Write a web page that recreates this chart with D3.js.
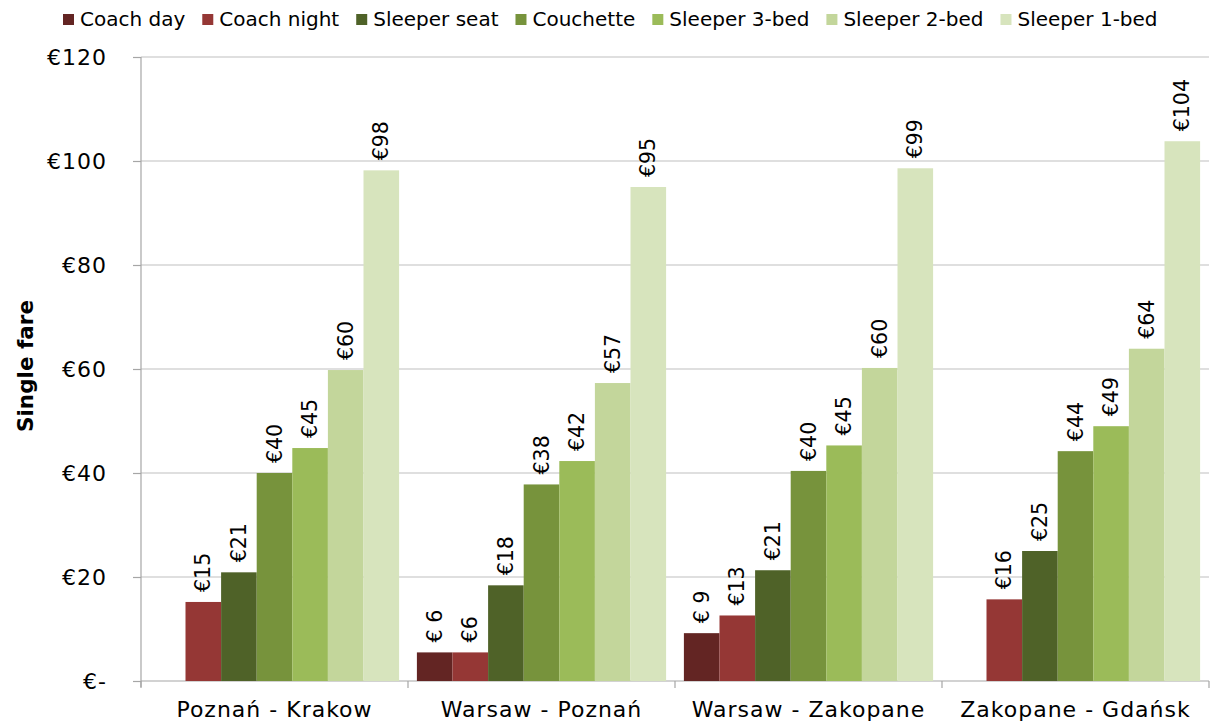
<!DOCTYPE html>
<html>
<head>
<meta charset="utf-8">
<script src="https://cdn.jsdelivr.net/npm/d3@7"></script>
<style>
  html, body { margin: 0; padding: 0; background: #fff; }
  svg { display: block; font-family: "DejaVu Sans", Verdana, sans-serif; }
</style>
</head>
<body>
<svg id="chart" width="1210" height="722"></svg>
<script>
// Routes (x categories)
const categories = ["Poznań - Krakow", "Warsaw - Poznań", "Warsaw - Zakopane", "Zakopane - Gdańsk"];

// Fare classes
const seriesNames = ["Coach day", "Coach night", "Sleeper seat", "Couchette", "Sleeper 3-bed", "Sleeper 2-bed", "Sleeper 1-bed"];

// Single fares in euro, one array per fare class (null = not offered)
const coachDay     = [null, 5.5, 9.2, null];
const coachNight   = [15.2, 5.5, 12.6, 15.7];
const sleeperSeat  = [20.9, 18.4, 21.3, 25.0];
const couchette    = [40.0, 37.8, 40.4, 44.2];
const sleeper3Bed  = [44.8, 42.3, 45.3, 49.0];
const sleeper2Bed  = [59.8, 57.3, 60.2, 63.9];
const sleeper1Bed  = [98.2, 95.0, 98.6, 103.8];

const seriesValues = [coachDay, coachNight, sleeperSeat, couchette, sleeper3Bed, sleeper2Bed, sleeper1Bed];

// Y axis ticks
const yTicks = [0, 20, 40, 60, 80, 100, 120];
const yTickLabels = ["€-", "€20", "€40", "€60", "€80", "€100", "€120"];

const colors = ["#632523", "#953735", "#4f6228", "#77933c", "#9bbb59", "#c3d69b", "#d7e4bd"];

const svg = d3.select("#chart");
const plot = { left: 141, right: 1209, top: 57, bottom: 681 };

const x0 = d3.scaleBand().domain(categories).range([plot.left, plot.right]).padding(0);
const x1 = d3.scaleBand().domain(seriesNames).range([0, x0.bandwidth()])
  .paddingInner(0).paddingOuter(0.25);
const y = d3.scaleLinear().domain([0, 120]).range([plot.bottom, plot.top]);

// Horizontal gridlines
svg.append("g")
  .selectAll("line")
  .data(yTicks.filter(d => d > 0))
  .join("line")
  .attr("x1", plot.left).attr("x2", plot.right)
  .attr("y1", d => y(d)).attr("y2", d => y(d))
  .attr("stroke", "#c0c0c0").attr("stroke-width", 1.2);

// Y axis
const yAxis = d3.axisLeft(y)
  .tickValues(yTicks)
  .tickSize(8)
  .tickPadding(26)
  .tickFormat((d, i) => yTickLabels[i]);
const gy = svg.append("g").attr("transform", `translate(${plot.left},0)`).call(yAxis);
gy.attr("font-family", null).attr("font-size", null);
gy.select(".domain").remove();
gy.append("line").attr("x1", 0).attr("x2", 0).attr("y1", plot.top).attr("y2", plot.bottom + 6)
  .attr("stroke", "#a6a6a6").attr("stroke-width", 1.2);
gy.selectAll(".tick line").attr("stroke", "#a6a6a6").attr("stroke-width", 1.2);
gy.selectAll(".tick text")
  .attr("fill", "#000")
  .attr("font-size", 22)
  .attr("letter-spacing", 1);

// X axis
const xAxis = d3.axisBottom(x0).tickSize(0).tickPadding(0);
const gx = svg.append("g").attr("transform", `translate(0,${plot.bottom})`).call(xAxis);
gx.attr("font-family", null).attr("font-size", null);
gx.select(".domain").remove();
gx.append("line").attr("x1", plot.left).attr("x2", plot.right).attr("y1", 0).attr("y2", 0)
  .attr("stroke", "#a6a6a6").attr("stroke-width", 1.2);
// boundary ticks between route groups
const bounds = categories.map(c => x0(c)).concat([x0(categories[categories.length - 1]) + x0.bandwidth()]);
gx.selectAll(".bound")
  .data(bounds)
  .join("line")
  .attr("class", "bound")
  .attr("x1", d => d).attr("x2", d => d)
  .attr("y1", 0).attr("y2", 7)
  .attr("stroke", "#a6a6a6").attr("stroke-width", 1.2);
gx.selectAll(".tick text")
  .attr("fill", "#000")
  .attr("dy", 0)
  .attr("y", 36)
  .attr("font-size", 22)
  .attr("letter-spacing", 1);

// Bars
const groups = svg.append("g")
  .selectAll("g")
  .data(seriesNames.map((name, si) => ({ name, si, values: seriesValues[si] })))
  .join("g")
  .attr("fill", d => colors[d.si]);

groups.selectAll("rect")
  .data(d => d.values.map((v, ci) => ({ v, ci, name: d.name })).filter(p => p.v != null))
  .join("rect")
  .attr("x", p => x0(categories[p.ci]) + x1(p.name))
  .attr("width", x1.bandwidth())
  .attr("y", p => y(p.v))
  .attr("height", p => y(0) - y(p.v));

// Value labels, rotated above each bar
const fmt = (si, v) => si === 0 ? "€ " + Math.round(v) : "€" + Math.round(v);
groups.selectAll("text")
  .data(d => d.values.map((v, ci) => ({ v, ci, name: d.name, si: d.si })).filter(p => p.v != null))
  .join("text")
  .attr("transform", p => {
    const cx = x0(categories[p.ci]) + x1(p.name) + x1.bandwidth() / 2;
    return `translate(${cx},${y(p.v) - 10}) rotate(-90)`;
  })
  .attr("dy", "0.35em")
  .attr("fill", "#000")
  .attr("font-size", 20.5)
  .text(p => fmt(p.si, p.v));

// Y axis title
svg.append("text")
  .attr("transform", "translate(25,366) rotate(-90)")
  .attr("text-anchor", "middle")
  .attr("dy", "0.35em")
  .attr("font-size", 21.5)
  .attr("font-weight", "bold")
  .text("Single fare");

// Legend
const legend = svg.append("g").attr("class", "legend");
let lx = 0;
seriesNames.forEach((name, i) => {
  const g = legend.append("g").attr("transform", `translate(${lx},0)`);
  g.append("rect").attr("x", 0).attr("y", 14).attr("width", 11).attr("height", 11).attr("fill", colors[i]);
  const t = g.append("text").attr("x", 17).attr("y", 26).attr("font-size", 20).text(name);
  const w = t.node().getComputedTextLength();
  lx += 17 + w + 17;
});
legend.attr("transform", "translate(63,0)");
</script>
</body>
</html>
